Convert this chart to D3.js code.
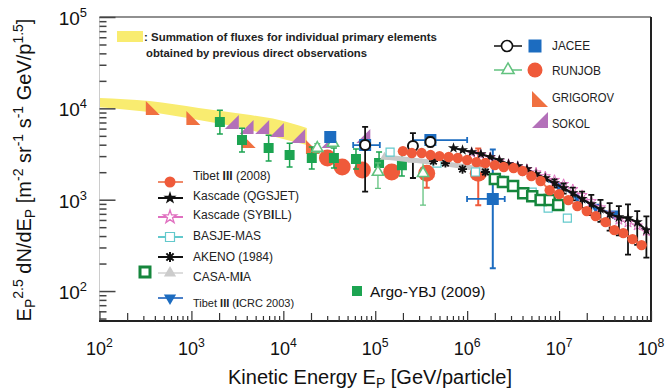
<!DOCTYPE html>
<html>
<head>
<meta charset="utf-8">
<script src="https://cdn.jsdelivr.net/npm/d3@7"></script>
<style>
  body { margin: 0; background: #fff; }
  svg { display: block; font-family: "Liberation Sans", Arial, sans-serif; }
</style>
</head>
<body>
<svg id="chart" width="665" height="391"></svg>
<script>
// yellow band: summation of direct measurements
const bandE  = [1e2, 3.5e2, 1.2e3, 4.4e3, 9e3, 1.8e4];
const bandHi = [13000, 12000, 10100, 8450, 7450, 6080];
const bandLo = [10300, 9100, 7450, 5780, 4730, 3960];

const grigorovE = [3.8e2, 1.05e3, 4.2e3, 2.1e4];
const grigorovF = [10100, 7830, 4390, 3770];

const sokolE = [2750, 3980, 5890, 8510, 14500, 30900, 74100];
const sokolF = [7080, 6240, 6240, 5780, 4970, 4390, 4970];

const argoE   = [2040, 3550, 6920, 11700, 20400, 35500, 61700, 1.1e5, 1.95e5];
const argoF   = [7080, 4500, 3670, 3080, 2860, 2860, 2790, 2520, 2390];
const argoErr = [0.13, 0.13, 0.14, 0.13, 0.12, 0.11, 0.11, 0.12, 0.12];

const runjobE  = [30200, 43700, 72400, 1.51e5, 3.63e5, 1.32e6];
const runjobF  = [2860, 2280, 2110, 2010, 1950, 1950];
const runjobUp = [0.04, 0.04, 0.05, 0.07, 0.08, 0.27];
const runjobDn = [0.04, 0.04, 0.05, 0.07, 0.16, 0.35];

const runjobPE  = [23400, 34700, 1.07e5, 3.31e5];
const runjobPF  = [3670, 4170, 2010, 1950];
const runjobPUp = [0.05, 0.05, 0.1, 0.12];
const runjobPDn = [0.05, 0.05, 0.18, 0.35];

const jaceeOE  = [77600, 2.57e5, 3.98e5];
const jaceeOF  = [3960, 3870, 4280];
const jaceeOUp = [0.2, 0.14, 0.05];
const jaceeODn = [0.51, 0.35, 0.05];

const jaceeSE   = [32400, 77600, 3.98e5, 1.9e6];
const jaceeSF   = [4850, 3960, 4500, 1020];
const jaceeSUp  = [0.03, 0.03, 0.05, 0.54];
const jaceeSDn  = [0.03, 0.03, 0.05, 0.76];
const jaceeSXlo = [0, 0.13, 0.19, 0.28];
const jaceeSXhi = [0, 0.16, 0.40, 0.13];

const tibet08E = [2.0e5, 2.5e5, 3.2e5, 4.0e5, 5.0e5, 6.3e5, 7.9e5, 1.0e6, 1.26e6, 1.58e6,
                  2.0e6, 2.5e6, 3.2e6, 4.0e6, 5.0e6, 6.3e6, 7.9e6, 1.0e7, 1.26e7, 1.58e7,
                  2.0e7, 2.5e7, 3.2e7, 4.0e7, 5.0e7, 6.3e7, 7.9e7];
const tibet08F = [3400, 3240, 3240, 3080, 3000, 2930, 2860, 2720, 2580, 2520,
                  2390, 2280, 2220, 2060, 1810, 1600, 1270, 1150, 990, 851,
                  750, 661, 568, 464, 431, 370, 318];

const qgsE  = [7.1e5, 8.9e5, 1.12e6, 1.41e6, 1.78e6, 2.24e6, 2.82e6, 3.55e6, 4.47e6, 5.62e6, 7.08e6,
               8.91e6, 1.12e7, 1.41e7, 1.78e7, 2.24e7, 2.82e7, 3.55e7, 4.47e7, 5.62e7, 7.08e7, 8.91e7];
const qgsF  = [3670, 3490, 3320, 3160, 2930, 2720, 2450, 2330, 2160, 1910, 1720,
               1520, 1340, 1180, 1020, 895, 789, 695, 644, 629, 568, 464];
const qgsUp = [0.02, 0.02, 0.02, 0.02, 0.02, 0.02, 0.02, 0.02, 0.02, 0.02, 0.03,
               0.04, 0.05, 0.06, 0.08, 0.1, 0.1, 0.12, 0.12, 0.15, 0.12, 0.15];
const qgsDn = [0.02, 0.02, 0.02, 0.02, 0.02, 0.02, 0.02, 0.03, 0.03, 0.03, 0.04,
               0.05, 0.06, 0.08, 0.1, 0.12, 0.14, 0.18, 0.2, 0.4, 0.25, 0.3];

const sybE = [1.12e6, 1.41e6, 1.78e6, 2.24e6, 2.82e6, 3.55e6, 4.47e6, 5.62e6, 7.08e6, 8.91e6,
              1.12e7, 1.41e7, 1.78e7, 2.24e7, 2.82e7, 3.55e7, 4.47e7, 5.62e7, 7.08e7, 8.91e7];
const sybF = [3250, 3100, 2900, 2650, 2450, 2300, 2150, 1980, 1800, 1640,
              1480, 1300, 1120, 960, 820, 700, 600, 560, 520, 450];

const basjeE = [1.45e5, 4.7e5, 1.23e6, 2.3e6, 5.1e6, 7.6e6, 1.23e7];
const basjeF = [3320, 2520, 2010, 1640, 1210, 809, 629];

const akenoE = [4.3e5, 5.8e5, 8.9e5, 1.58e6];
const akenoF = [2650, 2520, 2160, 2010];

const casaE = [1.26e5, 2.5e5, 5.0e5, 1.0e6, 1.58e6];
const casaF = [2930, 2720, 2520, 2280, 2110];

const icrcE = [4.0e6, 6.3e6, 1.0e7, 1.58e7, 2.5e7, 4.0e7];
const icrcF = [2110, 1720, 1410, 1070, 830, 700];

const greenSqE = [2.0e6, 2.45e6, 3.16e6, 4.07e6, 5.1e6, 6.3e6, 7.9e6, 9.8e6];
const greenSqF = [1680, 1560, 1410, 1180, 1090, 990, 990, 873];

const xTickPowers = [2, 3, 4, 5, 6, 7, 8];
const yTickPowers = [2, 3, 4, 5];

// colours
const RED = "#ef5a3a", ORANGE = "#f07040", PURPLE = "#b370b9", GREEN = "#1ca451",
      LGREEN = "#62c27f", BLUE = "#1c6cc0", CYAN = "#63c9cc", PINK = "#e070c0",
      GRAY = "#c9c9c9", DKGREEN = "#15863c";

const svg = d3.select("#chart");
const x = d3.scaleLog().domain([1e2, 1e8]).range([99.5, 651]);
const y = d3.scaleLog().domain([47, 1e5]).range([321, 17]);

svg.append("clipPath").attr("id", "plot")
  .append("rect").attr("x", 99.5).attr("y", 17).attr("width", 551.5).attr("height", 304);

const plot = svg.append("g").attr("clip-path", "url(#plot)");

// ---- helpers
const gfx = {
  circle: r => d3.symbol(d3.symbolCircle, Math.PI * r * r)(),
  square: s => d3.symbol(d3.symbolSquare, s * s)(),
  tri: s => d3.symbol(d3.symbolTriangle, s * s * 0.45)(),
  star: s => d3.symbol(d3.symbolStar, s * s * 0.32)(),
  grig: s => `M${-s/2},${-s/2}L${-s/2},${s/2}L${s/2},${s/2}Z`,
  sokol: s => `M${s/2},${-s/2}L${s/2},${s/2}L${-s/2},${s/2}Z`,
  aster: s => { const r = s / 2, d = r * 0.72;
    return `M${-r},0L${r},0M0,${-r}L0,${r}M${-d},${-d}L${d},${d}M${-d},${d}L${d},${-d}`; }
};

function markers(g, E, F, path, attrs, rot) {
  const m = g.selectAll(null).data(E).enter().append("path")
    .attr("d", path)
    .attr("transform", (d, i) => `translate(${x(d)},${y(F[i])})${rot ? " rotate(" + rot + ")" : ""}`);
  Object.entries(attrs).forEach(([k, v]) => m.attr(k, v));
}

function vErr(g, E, F, up, dn, color, w) {
  E.forEach((e, i) => {
    if (up[i] + dn[i] < 0.09) return;
    const cx = x(e), y1 = y(F[i] * Math.pow(10, up[i])), y2 = y(F[i] / Math.pow(10, dn[i]));
    g.append("path").attr("d", `M${cx},${y1}V${y2}M${cx - 3},${y1}h6M${cx - 3},${y2}h6`)
      .attr("stroke", color).attr("stroke-width", w || 1.5).attr("fill", "none");
  });
}

function line(g, E, F, color, w) {
  g.append("path").datum(E)
    .attr("d", d3.line().x(d => x(d)).y((d, i) => y(F[i])))
    .attr("fill", "none").attr("stroke", color).attr("stroke-width", w);
}

// ---- yellow band
const band = d3.area()
  .x(d => x(d))
  .y0((d, i) => y(bandLo[i]))
  .y1((d, i) => y(bandHi[i]))
  .curve(d3.curveMonotoneX);
plot.append("path").datum(bandE).attr("d", band).attr("fill", "#f9ec70");

// ---- direct measurements
markers(plot, grigorovE, grigorovF, gfx.grig(14), { fill: ORANGE });
markers(plot, sokolE, sokolF, gfx.sokol(14), { fill: PURPLE });

// RUNJOB all-particle
vErr(plot, runjobE, runjobF, runjobUp, runjobDn, RED, 2);
markers(plot, runjobE, runjobF, gfx.circle(8.5), { fill: RED });

// Argo-YBJ
vErr(plot, argoE, argoF, argoErr, argoErr, GREEN, 1.5);
markers(plot, argoE, argoF, gfx.square(10), { fill: GREEN });

// RUNJOB open triangles
vErr(plot, runjobPE, runjobPF, runjobPUp, runjobPDn, LGREEN, 1.3);
markers(plot, runjobPE, runjobPF, gfx.tri(11), { fill: "#fff", stroke: LGREEN, "stroke-width": 1.6 });

// JACEE squares with error bars
jaceeSE.forEach((e, i) => {
  if (jaceeSXlo[i] + jaceeSXhi[i] === 0) return;
  const cy = y(jaceeSF[i]), x1 = x(e / Math.pow(10, jaceeSXlo[i])), x2 = x(e * Math.pow(10, jaceeSXhi[i]));
  plot.append("path").attr("d", `M${x1},${cy}H${x2}M${x1},${cy - 3}v6M${x2},${cy - 3}v6`)
    .attr("stroke", BLUE).attr("stroke-width", 1.8).attr("fill", "none");
});
vErr(plot, jaceeSE, jaceeSF, jaceeSUp, jaceeSDn, BLUE, 2);
markers(plot, jaceeSE, jaceeSF, gfx.square(12), { fill: BLUE });

// JACEE open circles
vErr(plot, jaceeOE, jaceeOF, jaceeOUp, jaceeODn, "#111", 1.8);
markers(plot, jaceeOE, jaceeOF, gfx.circle(5), { fill: "#fff", stroke: "#111", "stroke-width": 2 });

// ---- air shower experiments
line(plot, casaE, casaF, GRAY, 5);
markers(plot, casaE, casaF, gfx.tri(9), { fill: GRAY });

markers(plot, basjeE, basjeF, gfx.square(8), { fill: "#fff", stroke: CYAN, "stroke-width": 1.2 });

line(plot, greenSqE, greenSqF, DKGREEN, 1.5);
markers(plot, greenSqE, greenSqF, gfx.square(10), { fill: "#fff", stroke: DKGREEN, "stroke-width": 2.5 });

markers(plot, akenoE, akenoF, gfx.aster(9), { fill: "none", stroke: "#111", "stroke-width": 1.8 });

line(plot, icrcE, icrcF, BLUE, 1.5);
markers(plot, icrcE, icrcF, gfx.tri(11), { fill: BLUE }, 180);

line(plot, sybE, sybF, PINK, 1);
markers(plot, sybE, sybF, gfx.star(10), { fill: "#fff", stroke: PINK, "stroke-width": 1 });

vErr(plot, qgsE, qgsF, qgsUp, qgsDn, "#111", 1.8);
line(plot, qgsE, qgsF, "#111", 2);
markers(plot, qgsE, qgsF, gfx.star(11), { fill: "#111" });

line(plot, tibet08E, tibet08F, "#f07a5a", 2);
markers(plot, tibet08E, tibet08F, gfx.circle(5.2), { fill: RED });

// ---- frame and axes
svg.append("line").attr("x1", 99.5).attr("x2", 99.5).attr("y1", 17).attr("y2", 321)
  .attr("stroke", "#ccc").attr("stroke-width", 1);
svg.append("line").attr("x1", 99.5).attr("x2", 651).attr("y1", 17).attr("y2", 17)
  .attr("stroke", "#222").attr("stroke-width", 1.2);
svg.append("line").attr("x1", 651).attr("x2", 651).attr("y1", 17).attr("y2", 321)
  .attr("stroke", "#222").attr("stroke-width", 2);
svg.append("line").attr("x1", 99).attr("x2", 652).attr("y1", 321).attr("y2", 321)
  .attr("stroke", "#222").attr("stroke-width", 2);

const xMinor = [], xTwo = [], yMinor = [];
for (let p = 2; p < 8; p++) for (let k = 2; k <= 9; k++) (k === 2 ? xTwo : xMinor).push(k * Math.pow(10, p));
for (let p = 1; p < 5; p++) for (let k = 2; k <= 9; k++) {
  const v = k * Math.pow(10, p);
  if (v > 47) yMinor.push(v);
}

const xAxis = svg.append("g").attr("transform", "translate(0,321)");
xAxis.call(d3.axisBottom(x).tickValues(xMinor).tickSize(-5).tickFormat(""));
xAxis.append("g").call(d3.axisBottom(x).tickValues(xTwo).tickSize(-8).tickFormat(""));
xAxis.append("g").call(d3.axisBottom(x).tickValues(xTickPowers.map(p => Math.pow(10, p))).tickSize(-10).tickFormat(""));
xAxis.selectAll(".domain").remove();
xAxis.selectAll("line").attr("stroke", "#333").attr("stroke-width", 1.2);

const yAxis = svg.append("g").attr("transform", "translate(99.5,0)");
yAxis.call(d3.axisLeft(y).tickValues(yMinor).tickSize(-7).tickFormat(""));
yAxis.append("g").call(d3.axisLeft(y).tickValues(yTickPowers.map(p => Math.pow(10, p))).tickSize(-16).tickFormat(""));
yAxis.selectAll(".domain").remove();
yAxis.selectAll("line").attr("stroke", "#444").attr("stroke-width", 1.5);

// tick labels "10^n"
function pow10(sel, n, fs) {
  sel.append("tspan").text("10");
  sel.append("tspan").attr("font-size", fs * 0.68).attr("dy", -fs * 0.42).text(n);
}
xTickPowers.forEach(p => {
  const t = svg.append("text").attr("x", x(Math.pow(10, p))).attr("y", 355)
    .attr("text-anchor", "middle").attr("font-size", 18).attr("fill", "#111");
  pow10(t, p, 18);
});
yTickPowers.forEach(p => {
  const t = svg.append("text").attr("x", 87).attr("y", y(Math.pow(10, p)) + 8)
    .attr("text-anchor", "end").attr("font-size", 19).attr("fill", "#111");
  pow10(t, p, 19);
});

// rich text with sub/superscripts
function rich(sel, parts, size) {
  let shift = 0;
  parts.forEach(([t, s]) => {
    const target = s === "sup" ? -size * 0.42 : s === "sub" ? size * 0.22 : 0;
    sel.append("tspan").attr("dy", target - shift)
      .attr("font-size", s ? size * 0.7 : size).text(t);
    shift = target;
  });
}

const xt = svg.append("text").attr("x", 370).attr("y", 384).attr("text-anchor", "middle")
  .attr("font-size", 20).attr("fill", "#111");
rich(xt, [["Kinetic Energy E"], ["P", "sub"], [" [GeV/particle]"]], 20);

const yt = svg.append("text").attr("transform", "translate(31,170) rotate(-90)")
  .attr("text-anchor", "middle").attr("font-size", 20).attr("fill", "#111");
rich(yt, [["E"], ["P", "sub"], ["2.5", "sup"], [" dN/dE"], ["P", "sub"], [" [m"], ["-2", "sup"],
          [" sr"], ["-1", "sup"], [" s"], ["-1", "sup"], [" GeV/p"], ["1.5", "sup"], ["]"]], 20);

// ---- band legend
svg.append("rect").attr("x", 117).attr("y", 31).attr("width", 26).attr("height", 11).attr("fill", "#f9ec70");
svg.append("text").attr("x", 144).attr("y", 41).attr("font-size", 11.5).attr("font-weight", "bold")
  .attr("textLength", 293).attr("lengthAdjust", "spacingAndGlyphs").attr("fill", "#222")
  .text(": Summation of fluxes for individual primary elements");
svg.append("text").attr("x", 146).attr("y", 57).attr("font-size", 11.5).attr("font-weight", "bold")
  .attr("textLength", 221).attr("lengthAdjust", "spacingAndGlyphs").attr("fill", "#222")
  .text("obtained by previous direct observations");

// ---- top right legend
const lg = svg.append("g");
function label(g, txt, yy, len) {
  g.append("text").attr("x", 552).attr("y", yy + 5).attr("font-size", 13)
    .attr("textLength", len).attr("lengthAdjust", "spacingAndGlyphs").attr("fill", "#222").text(txt);
}
lg.append("line").attr("x1", 494).attr("x2", 522).attr("y1", 46).attr("y2", 46).attr("stroke", "#111").attr("stroke-width", 1.5);
lg.append("path").attr("d", gfx.circle(5.5)).attr("transform", "translate(507,46)")
  .attr("fill", "#fff").attr("stroke", "#111").attr("stroke-width", 1.6);
lg.append("path").attr("d", gfx.square(13)).attr("transform", "translate(535,46)").attr("fill", BLUE);
label(lg, "JACEE", 45, 38);

lg.append("line").attr("x1", 494).attr("x2", 522).attr("y1", 70).attr("y2", 70).attr("stroke", LGREEN).attr("stroke-width", 1.5);
lg.append("path").attr("d", gfx.tri(12)).attr("transform", "translate(508,70)")
  .attr("fill", "#fff").attr("stroke", LGREEN).attr("stroke-width", 1.5);
lg.append("path").attr("d", gfx.circle(7.5)).attr("transform", "translate(535,70)").attr("fill", RED);
label(lg, "RUNJOB", 70, 49);

lg.append("path").attr("d", gfx.grig(16)).attr("transform", "translate(540,99)").attr("fill", ORANGE);
label(lg, "GRIGOROV", 97, 62);
lg.append("path").attr("d", gfx.sokol(16)).attr("transform", "translate(540,120)").attr("fill", PURPLE);
label(lg, "SOKOL", 123, 38);

// ---- left legend
const entries = [
  { t: [["Tibet "], ["III", "b"], [" (2008)"]], ty: 180, my: 182, c: "#f08a6a",
    m: g => g.append("path").attr("d", gfx.circle(5.5)).attr("fill", RED) },
  { t: [["Kascade (QGSJET)"]], ty: 200, my: 198, c: "#111",
    m: g => g.append("path").attr("d", gfx.star(13)).attr("fill", "#111") },
  { t: [["Kascade (SYB"], ["I", "b"], ["LL)"]], ty: 219, my: 217, c: PINK,
    m: g => g.append("path").attr("d", gfx.star(13)).attr("fill", "#fff").attr("stroke", PINK).attr("stroke-width", 1.3) },
  { t: [["BASJE-MAS"]], ty: 240, my: 237, c: CYAN,
    m: g => g.append("path").attr("d", gfx.square(9)).attr("fill", "#fff").attr("stroke", CYAN).attr("stroke-width", 1.2) },
  { t: [["AKENO (1984)"]], ty: 261, my: 257, c: "#111",
    m: g => g.append("path").attr("d", gfx.aster(10)).attr("stroke", "#111").attr("stroke-width", 2) },
  { t: [["CASA-M"], ["I", "b"], ["A"]], ty: 281, my: 273, c: "#ddd",
    m: g => g.append("path").attr("d", gfx.tri(12)).attr("fill", "#ccc") },
  { t: [["Tibet "], ["III", "b"], [" ("], ["I", "b"], ["CRC 2003)"]], ty: 307, my: 298, c: "#4a80c8", fs: 11,
    m: g => g.append("path").attr("d", gfx.tri(12)).attr("transform", "rotate(180)").attr("fill", BLUE) }
];
entries.forEach(e => {
  svg.append("line").attr("x1", 158).attr("x2", 183).attr("y1", e.my).attr("y2", e.my)
    .attr("stroke", e.c).attr("stroke-width", 2);
  e.m(svg.append("g").attr("transform", `translate(170,${e.my})`));
  const t = svg.append("text").attr("x", 193).attr("y", e.ty).attr("font-size", e.fs || 12).attr("fill", "#222");
  e.t.forEach(([s, b]) => t.append("tspan").attr("font-weight", b ? "bold" : null).text(s));
});
svg.append("path").attr("d", gfx.square(10)).attr("transform", "translate(145,272)")
  .attr("fill", "#fff").attr("stroke", DKGREEN).attr("stroke-width", 3);

// Argo label
svg.append("path").attr("d", gfx.square(10)).attr("transform", "translate(357,291)").attr("fill", GREEN);
svg.append("text").attr("x", 370).attr("y", 297).attr("font-size", 15.5).attr("fill", "#111")
  .text("Argo-YBJ (2009)");
</script>
</body>
</html>
